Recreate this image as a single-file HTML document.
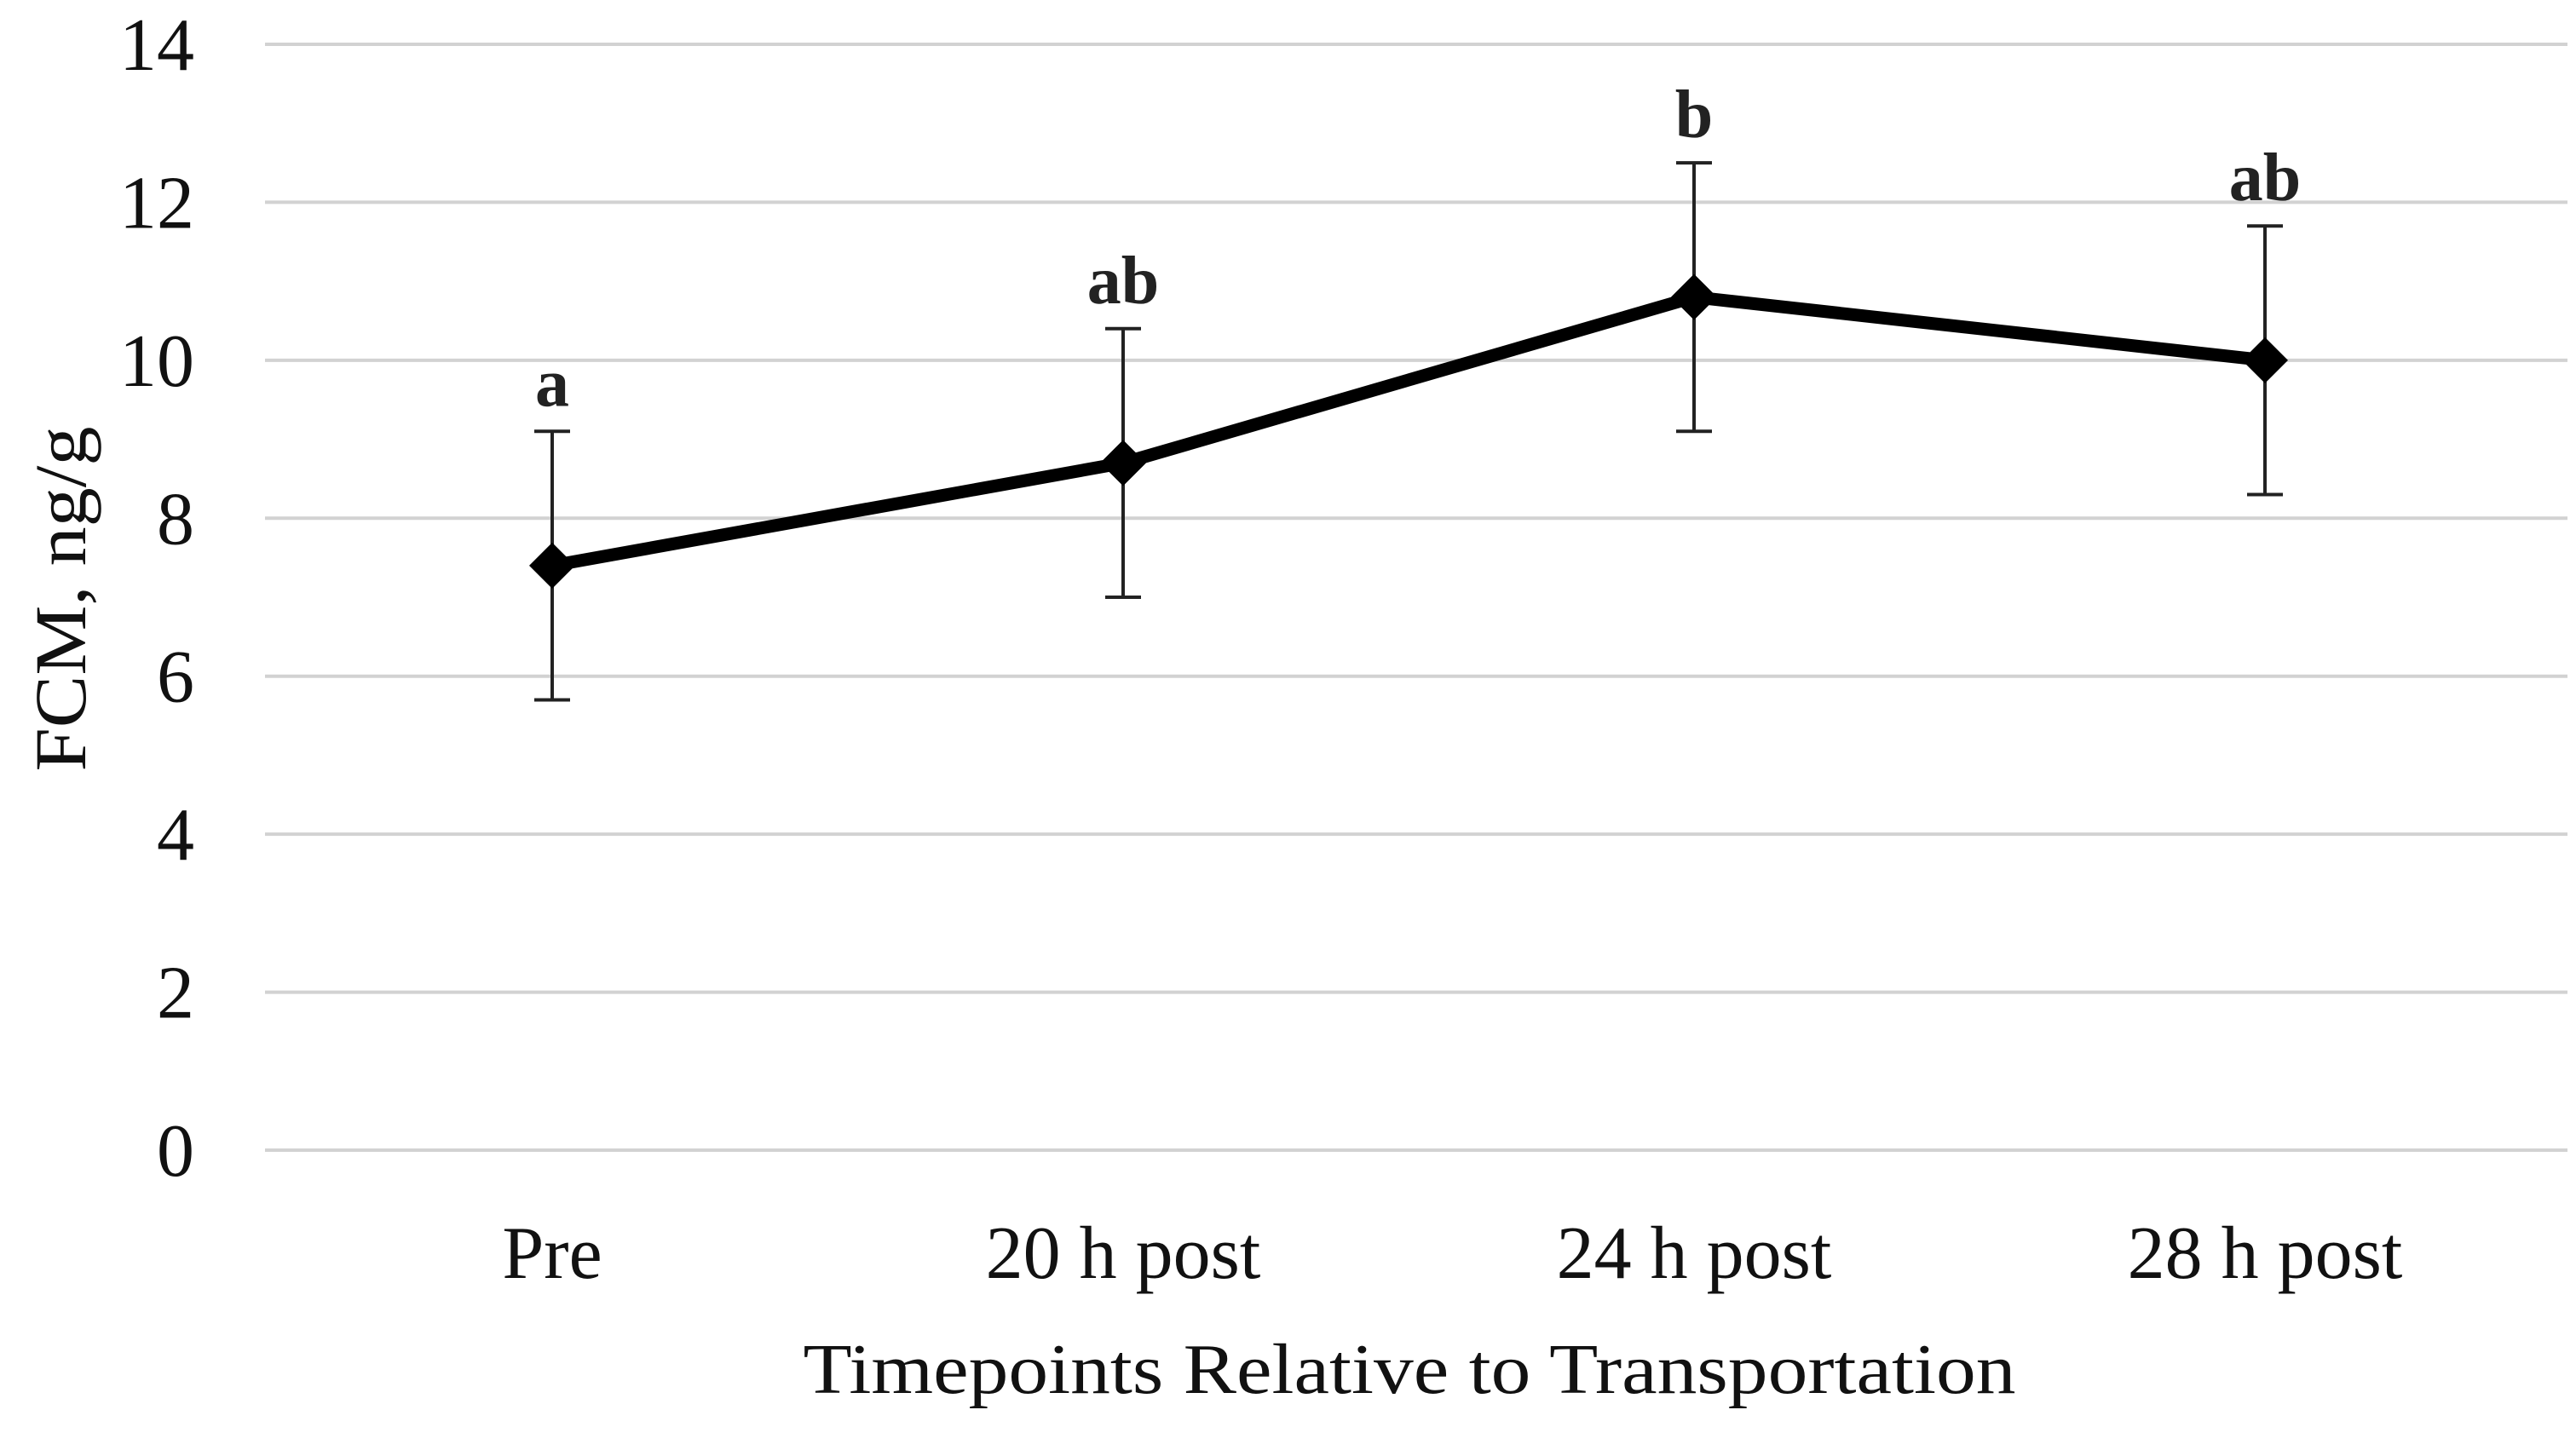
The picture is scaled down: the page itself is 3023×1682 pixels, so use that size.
<!DOCTYPE html>
<html><head><meta charset="utf-8"><style>html,body{margin:0;padding:0;background:#fff}svg{display:block}</style></head>
<body>
<svg id="chart" width="3023" height="1682" viewBox="0 0 3023 1682" xmlns="http://www.w3.org/2000/svg" font-family="'Liberation Serif', serif">
<g id="grid"></g>
<g id="yticks"></g>
<g id="xticks"></g>
<g id="errs"></g>
<g id="series"></g>
<g id="letters"></g>
<text transform="translate(100,703) rotate(-90)" text-anchor="middle" font-size="86" fill="#111" textLength="405" lengthAdjust="spacingAndGlyphs">FCM, ng/g</text>
<text x="1654" y="1635" text-anchor="middle" font-size="84" fill="#111" textLength="1423" lengthAdjust="spacingAndGlyphs">Timepoints Relative to Transportation</text>
</svg>
<script>
const categories = ["Pre", "20 h post", "24 h post", "28 h post"];
const means = [7.4, 8.7, 10.8, 10.0];
const errLow = [5.7, 7.0, 9.1, 8.3];
const errHigh = [9.1, 10.4, 12.5, 11.7];
const letters = ["a", "ab", "b", "ab"];
const yTicks = [0, 2, 4, 6, 8, 10, 12, 14];

const NS = "http://www.w3.org/2000/svg";
const y = v => 1350 - v * (1350 - 52) / 14;
const x = i => 648 + i * 670;
function mk(tag, attrs, parent, txt) {
  const e = document.createElementNS(NS, tag);
  for (const k in attrs) e.setAttribute(k, attrs[k]);
  if (txt !== undefined) e.textContent = txt;
  parent.appendChild(e);
  return e;
}
const grid = document.getElementById('grid'), yt = document.getElementById('yticks'),
  xt = document.getElementById('xticks'), errs = document.getElementById('errs'),
  ser = document.getElementById('series'), let_ = document.getElementById('letters');
yTicks.forEach(t => {
  const l = mk('line', {x1: 311, x2: 3013, y1: y(t), y2: y(t), stroke: '#d2d2d2', 'stroke-width': 4}, grid);
  
  
  const tx = mk('text', {x: 228, y: y(t) + 30, 'text-anchor': 'end', 'font-size': 88, fill: '#111'}, yt, String(t));
  
  
});
categories.forEach((c, i) => {
  const tx = mk('text', {x: x(i), y: 1500, 'text-anchor': 'middle', 'font-size': 88, fill: '#111'}, xt, c);
  
  
  const g = mk('g', {stroke: '#222', 'stroke-width': 4}, errs);
  
  
  mk('line', {x1: x(i), x2: x(i), y1: y(errLow[i]), y2: y(errHigh[i])}, g);
  mk('line', {x1: x(i) - 21, x2: x(i) + 21, y1: y(errLow[i]), y2: y(errLow[i])}, g);
  mk('line', {x1: x(i) - 21, x2: x(i) + 21, y1: y(errHigh[i]), y2: y(errHigh[i])}, g);
  const lt = mk('text', {x: x(i), y: y(errHigh[i]) - 30, 'text-anchor': 'middle', 'font-size': 80, 'font-weight': 'bold', fill: '#222'}, let_, letters[i]);
  
  
});
const pl = mk('polyline', {points: means.map((m, i) => x(i) + ',' + y(m)).join(' '), fill: 'none', stroke: '#000', 'stroke-width': 15, 'stroke-linejoin': 'round'}, ser);


means.forEach((m, i) => {
  const cx = x(i), cy = y(m), r = 27;
  const d = mk('polygon', {points: `${cx},${cy - r} ${cx + r},${cy} ${cx},${cy + r} ${cx - r},${cy}`, fill: '#000'}, ser);
  
  
});
</script>
</body></html>
